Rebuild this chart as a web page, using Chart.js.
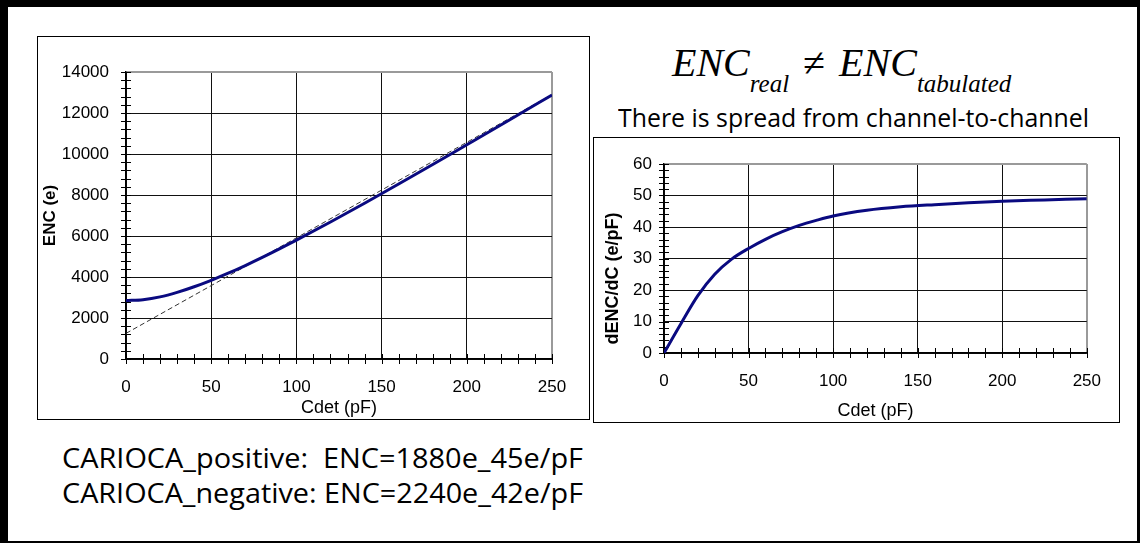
<!DOCTYPE html>
<html>
<head>
<meta charset="utf-8">
<script src="https://cdn.jsdelivr.net/npm/chart.js@4.4.1/dist/chart.umd.min.js"></script>
<style>
  html, body { margin: 0; padding: 0; background: #fff; }
  #page { position: relative; width: 1140px; height: 543px; overflow: hidden; background: #fff; }
  .frame { position: absolute; background: #000; }
  .box { position: absolute; box-sizing: border-box; border: 1px solid #000; background: #fff; }
  .box canvas { position: absolute; left: 0; top: 0; }
  .txt { position: absolute; white-space: pre; transform-origin: 0 0; color: #000; }
  .sans { font-family: "Open Sans", "Noto Sans", sans-serif; }
  .sub { font-size: 25px; position: relative; top: 16px; }
</style>
</head>
<body>
<div id="page">
  <div class="frame" style="left:0;top:0;width:1140px;height:7px"></div>
  <div class="frame" style="left:0;top:0;width:8px;height:543px"></div>
  <div class="frame" style="left:0;top:541px;width:1140px;height:2px"></div>
  <div class="frame" style="left:1137px;top:0;width:3px;height:543px"></div>

  <div class="box" style="left:37px;top:36px;width:553px;height:384px">
    <canvas id="encChart" width="551" height="382"></canvas>
  </div>
  <div class="box" style="left:593px;top:137px;width:527px;height:286px">
    <canvas id="slopeChart" width="525" height="284"></canvas>
  </div>

  <div class="txt" style="left:672px;top:43px;font:italic 40px 'Liberation Serif','Times New Roman',serif;line-height:40px">ENC<span class="sub">real</span><span style="font-style:normal;margin:0 14px 0 14px">&ne;</span>ENC<span class="sub">tabulated</span></div>
  <div class="txt sans fit" data-w="471" style="left:618px;top:102px;font-size:26px;line-height:30px">There is spread from channel-to-channel</div>
  <div class="txt sans fit" data-w="521" style="left:62px;top:442px;font-size:28px;line-height:30px">CARIOCA_positive:  ENC=1880e_45e/pF</div>
  <div class="txt sans fit" data-w="521" style="left:62px;top:477px;font-size:28px;line-height:30px">CARIOCA_negative: ENC=2240e_42e/pF</div>
</div>

<script>
// detector capacitance (pF) and measured noise
const capPf = [0, 10, 20, 30, 40, 50, 60, 70, 80, 90, 100, 120, 140, 160, 180, 200, 225, 250];
const encReal = [2850, 2895, 3030, 3250, 3525, 3840, 4185, 4560, 4955, 5370, 5800, 6685, 7600, 8535, 9485, 10450, 11660, 12880];
const encSlope = [0, 9.3, 18.2, 25.0, 29.8, 33.2, 36.1, 38.5, 40.5, 42.1, 43.5, 45.3, 46.4, 47.1, 47.7, 48.2, 48.6, 49.0];

// straight-line tabulated ENC
const fitPf = [0, 250];
const encFit = [1250, 12900];

const capTicks = [0, 50, 100, 150, 200, 250];
const encTicks = [0, 2000, 4000, 6000, 8000, 10000, 12000, 14000];
const slopeTicks = [0, 10, 20, 30, 40, 50, 60];

Chart.defaults.font.family = "'Liberation Sans', Arial, sans-serif";
Chart.defaults.color = "#000";

const toPoints = (xs, ys) => xs.map((x, i) => ({ x, y: ys[i] }));

// small crossing tick marks along both axes
const minorTicks = {
  id: "minorTicks",
  beforeDatasetsDraw (chart, args, opts) {
    const { ctx, chartArea: area, scales } = chart;
    const half = 5;
    ctx.save();
    ctx.strokeStyle = "#000";
    ctx.lineWidth = 1;
    ctx.beginPath();
    const xs = scales.x;
    for (let v = xs.min; v <= xs.max + 1e-9; v += opts.x) {
      const px = Math.round(xs.getPixelForValue(v)) + 0.5;
      ctx.moveTo(px, area.bottom - half);
      ctx.lineTo(px, area.bottom + half);
    }
    const ys = scales.y;
    for (let v = ys.min; v <= ys.max + 1e-9; v += opts.y) {
      const py = Math.round(ys.getPixelForValue(v)) + 0.5;
      ctx.moveTo(area.left - half, py);
      ctx.lineTo(area.left + half, py);
    }
    ctx.stroke();
    ctx.restore();
  }
};

function axis (ticks, opts) {
  const last = ticks[ticks.length - 1];
  return {
    type: "linear",
    min: ticks[0],
    max: last,
    afterBuildTicks: scale => { scale.ticks = ticks.map(value => ({ value })); },
    afterFit: scale => {
      if (opts.width) scale.width = opts.width;
      if (opts.height) scale.height = opts.height;
    },
    ticks: {
      padding: opts.pad,
      font: { size: 17 },
      color: "#000",
      callback: v => String(v)
    },
    grid: {
      drawTicks: false,
      color: c => (c.tick && c.tick.value === last ? "#9a9a9a" : "#111"),
      lineWidth: c => (c.tick && c.tick.value === last ? 2 : 1)
    },
    border: { display: true, color: "#000", width: 1.5 },
    title: {
      display: true,
      text: opts.title,
      color: "#000",
      font: { size: opts.titleSize || 18, weight: opts.bold ? "bold" : "normal" },
      padding: { top: opts.titlePad, bottom: 0 }
    }
  };
}

new Chart(document.getElementById("encChart"), {
  type: "scatter",
  data: {
    datasets: [
      {
        label: "ENC real",
        data: toPoints(capPf, encReal),
        showLine: true,
        borderColor: "#0a0a80",
        borderWidth: 3,
        pointRadius: 0,
        cubicInterpolationMode: "monotone"
      },
      {
        label: "ENC tabulated",
        data: toPoints(fitPf, encFit),
        showLine: true,
        borderColor: "#333",
        borderWidth: 1,
        borderDash: [5, 3],
        pointRadius: 0
      }
    ]
  },
  options: {
    responsive: false,
    animation: false,
    layout: { padding: { top: 35, right: 37, left: 0, bottom: 0 } },
    plugins: { legend: { display: false }, tooltip: { enabled: false }, minorTicks: { x: 10, y: 400 } },
    scales: {
      x: axis(capTicks, { height: 60, pad: 18, title: "Cdet (pF)", titlePad: 0 }),
      y: axis(encTicks, { width: 88, pad: 17, title: "ENC (e)", titleSize: 17, titlePad: 2, bold: true })
    }
  },
  plugins: [minorTicks]
});

new Chart(document.getElementById("slopeChart"), {
  type: "scatter",
  data: {
    datasets: [
      {
        label: "dENC/dC",
        data: toPoints(capPf, encSlope),
        showLine: true,
        borderColor: "#0a0a80",
        borderWidth: 3,
        pointRadius: 0,
        cubicInterpolationMode: "monotone"
      }
    ]
  },
  options: {
    responsive: false,
    animation: false,
    layout: { padding: { top: 26, right: 27, left: 0, bottom: 0 } },
    plugins: { legend: { display: false }, tooltip: { enabled: false }, minorTicks: { x: 10, y: 2 } },
    scales: {
      x: axis(capTicks, { height: 69, pad: 18, title: "Cdet (pF)", titlePad: 2 }),
      // trailing spaces push the rotated title a little lower on the axis
      y: axis(slopeTicks, { width: 70, pad: 12, title: "dENC/dC (e/pF)        ", titlePad: 8, bold: true })
    }
  },
  plugins: [minorTicks]
});

// squeeze the slide text to its line width
function fitText () {
  document.querySelectorAll(".fit").forEach(el => {
    el.style.transform = "none";
    const w = el.getBoundingClientRect().width;
    el.style.transform = "scaleX(" + (Number(el.dataset.w) / w) + ")";
  });
}
fitText();
document.fonts.ready.then(fitText);
</script>
</body>
</html>
